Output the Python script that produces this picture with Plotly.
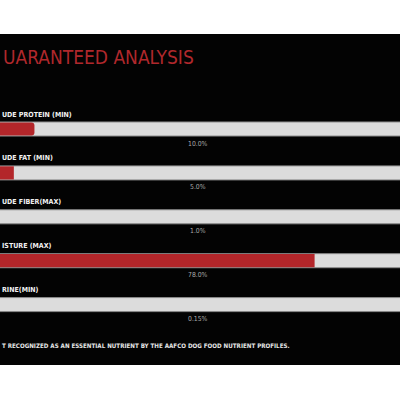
import plotly.graph_objects as go

title = "UARANTEED ANALYSIS"
categories = ["UDE PROTEIN (MIN)", "UDE FAT (MIN)", "UDE FIBER(MAX)", "ISTURE (MAX)", "RINE(MIN)"]
values = [10.0, 5.0, 1.0, 78.0, 0.15]
value_labels = ["10.0%", "5.0%", "1.0%", "78.0%", "0.15%"]
track_max = [100, 100, 100, 100, 100]
footnote = "T RECOGNIZED AS AN ESSENTIAL NUTRIENT BY THE AAFCO DOG FOOD NUTRIENT PROFILES."

W, H = 400, 400
FONT = "Liberation Sans Narrow, DejaVu Sans Condensed, Roboto, sans-serif"
RED = "#b3262a"

idx = list(range(len(categories)))

fig = go.Figure()
fig.add_trace(go.Bar(
    y=idx, x=track_max, orientation="h", width=0.32,
    marker=dict(color="#dcdcdc", line=dict(color="#8a8a8a", width=1)),
    hoverinfo="skip", showlegend=False,
))
fig.add_trace(go.Bar(
    y=idx, x=values, orientation="h", width=0.30,
    marker=dict(color=RED, line=dict(width=0), cornerradius=3),
    hoverinfo="skip", showlegend=False,
))

step = 43.9
y_top = -129 / step
y_bot = (H - 129) / step
px_per_unit = 4.12
x_left = 1.64
x_right = x_left + W / px_per_unit

annotations = []
annotations.append(dict(
    text=title, xref="paper", yref="paper", x=0.5 / W, y=1 - 57 / H,
    xanchor="left", yanchor="middle", showarrow=False,
    font=dict(family=FONT, size=19, color="#b0282c"),
))
for i, (c, v) in enumerate(zip(categories, value_labels)):
    annotations.append(dict(
        text="<b>" + c + "</b>", xref="paper", yref="y", x=0, y=i - 14.5 / step,
        xanchor="left", yanchor="middle", showarrow=False,
        font=dict(family=FONT, size=7, color="#f2f2f2"),
    ))
    annotations.append(dict(
        text=v, xref="paper", yref="y", x=198 / W, y=i + 14.5 / step,
        xanchor="center", yanchor="middle", showarrow=False,
        font=dict(family=FONT, size=6.8, color="#a8a8a8"),
    ))
annotations.append(dict(
    text="<b>" + footnote + "</b>", xref="paper", yref="paper", x=0, y=1 - 345.5 / H,
    xanchor="left", yanchor="middle", showarrow=False,
    font=dict(family=FONT, size=6.2, color="#e6e6e6"),
))

fig.update_layout(
    width=W, height=H,
    margin=dict(l=0, r=0, t=0, b=0),
    paper_bgcolor="white", plot_bgcolor="rgba(0,0,0,0)",
    barmode="overlay",
    xaxis=dict(range=[x_left, x_right], visible=False, fixedrange=True),
    yaxis=dict(range=[y_bot, y_top], visible=False, fixedrange=True),
    annotations=annotations,
    shapes=[dict(type="rect", xref="paper", yref="paper", x0=0, x1=1,
                 y0=1 - 365 / H, y1=1 - 34 / H, fillcolor="#030303",
                 line=dict(width=0), layer="below")],
)

fig.write_html("out.html", config={"displayModeBar": False},
               post_script="document.body.style.margin='0';document.body.style.overflow='hidden';")
